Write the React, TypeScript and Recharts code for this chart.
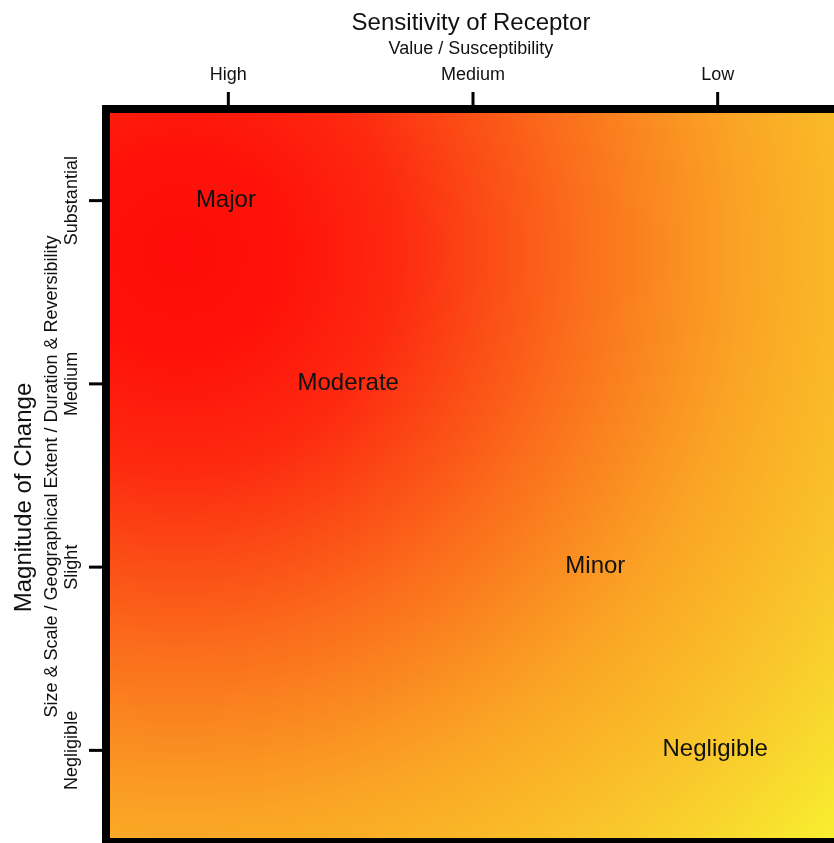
import React from "react";
import {
  ScatterChart,
  Scatter,
  XAxis,
  YAxis,
  ReferenceArea,
  Label,
} from "recharts";

// Category names on the two axes
const sensitivityLevels = ["High", "Medium", "Low"];
const magnitudeLevels = ["Negligible", "Slight", "Medium", "Substantial"];

// Significance labels and where they sit in the matrix
const significanceLabels = ["Major", "Moderate", "Minor", "Negligible"];
const significanceX = [0.99, 1.49, 2.5, 2.99];
const significanceY = [4, 3, 2, 1];

const sensitivityTicks = [1, 2, 3];
const magnitudeTicks = [1, 2, 3, 4];

const labelData = significanceLabels.map((name, i) => ({
  name,
  x: significanceX[i],
  y: significanceY[i],
}));

const FONT = "'Liberation Sans', Arial, Helvetica, sans-serif";
const INK = "#111";

// heat colours: red (top left) to yellow (bottom right)
const heatStops = [
  { offset: 0, color: "#ff0c08" },
  { offset: 0.12, color: "#ff1209" },
  { offset: 0.25, color: "#fd2a10" },
  { offset: 0.36, color: "#fb4f16" },
  { offset: 0.45, color: "#fb6c1c" },
  { offset: 0.55, color: "#fa8a20" },
  { offset: 0.64, color: "#faa325" },
  { offset: 0.73, color: "#fab527" },
  { offset: 0.83, color: "#f9c82c" },
  { offset: 0.92, color: "#f8dc2e" },
  { offset: 1, color: "#f8ef30" },
];

const TopTick = ({ x, y, payload }: any) => (
  <text
    x={x}
    y={y}
    textAnchor="middle"
    fontSize={18}
    fontFamily={FONT}
    fill={INK}
  >
    {sensitivityLevels[payload.value - 1]}
  </text>
);

const LeftTick = ({ x, y, payload }: any) => (
  <text
    x={x}
    y={y}
    transform={`rotate(-90, ${x}, ${y})`}
    textAnchor="middle"
    fontSize={18}
    fontFamily={FONT}
    fill={INK}
  >
    {magnitudeLevels[payload.value - 1]}
  </text>
);

const XTitle = ({ viewBox }: any) => {
  const cx = viewBox.x + viewBox.width / 2 - 2;
  return (
    <g fontFamily={FONT} fill={INK}>
      <text x={cx} y={viewBox.y - 39.5} textAnchor="middle" fontSize={24}>
        Sensitivity of Receptor
      </text>
      <text x={cx} y={viewBox.y - 15} textAnchor="middle" fontSize={18}>
        Value / Susceptibility
      </text>
    </g>
  );
};

const YTitle = ({ viewBox }: any) => {
  const mid = viewBox.y + viewBox.height / 2;
  const tx = viewBox.x - 35;
  const sx = viewBox.x - 9;
  return (
    <g fontFamily={FONT} fill={INK}>
      <text
        x={tx}
        y={mid + 22}
        transform={`rotate(-90, ${tx}, ${mid + 22})`}
        textAnchor="middle"
        fontSize={24}
      >
        Magnitude of Change
      </text>
      <text
        x={sx}
        y={mid + 1}
        transform={`rotate(-90, ${sx}, ${mid + 1})`}
        textAnchor="middle"
        fontSize={18}
      >
        Size &amp; Scale / Geographical Extent / Duration &amp; Reversibility
      </text>
    </g>
  );
};

// words sit a little above the grid line, so drop the baseline 6px
const WordShape = ({ cx, cy, payload }: any) => (
  <text
    x={cx}
    y={cy + 6}
    textAnchor="middle"
    fontSize={24}
    fontFamily={FONT}
    fill={INK}
  >
    {payload.name}
  </text>
);

export default function App() {
  return (
    // the matrix runs off the right and bottom edge, like the source image
    <div
      style={{
        position: "fixed",
        left: 8,
        top: 8,
        width: 826,
        height: 835,
        overflow: "hidden",
      }}
    >
      <ScatterChart
        width={860}
        height={860}
        margin={{ top: 61, right: 28, bottom: 26, left: 58 }}
      >
        <defs>
          <radialGradient id="heat" cx="0.1" cy="0.195" r="1.2">
            {heatStops.map((s) => (
              <stop key={s.offset} offset={s.offset} stopColor={s.color} />
            ))}
          </radialGradient>
        </defs>
        <XAxis
          type="number"
          dataKey="x"
          orientation="top"
          domain={[0.5, 3.5]}
          ticks={sensitivityTicks}
          height={40}
          axisLine={false}
          tickLine={{ stroke: "#000", strokeWidth: 3 }}
          tickSize={17}
          tickMargin={12}
          tick={<TopTick />}
        >
          <Label content={XTitle} />
        </XAxis>
        <YAxis
          type="number"
          dataKey="y"
          domain={[0.5, 4.5]}
          ticks={magnitudeTicks}
          width={40}
          axisLine={false}
          tickLine={{ stroke: "#000", strokeWidth: 3 }}
          tickSize={17}
          tickMargin={12}
          tick={<LeftTick />}
        >
          <Label content={YTitle} />
        </YAxis>
        <ReferenceArea
          x1={0.5}
          x2={3.5}
          y1={0.5}
          y2={4.5}
          fill="url(#heat)"
          fillOpacity={1}
          stroke="#000"
          strokeWidth={8}
        />
        <Scatter
          data={labelData}
          shape={<WordShape />}
          isAnimationActive={false}
        />
      </ScatterChart>
    </div>
  );
}
